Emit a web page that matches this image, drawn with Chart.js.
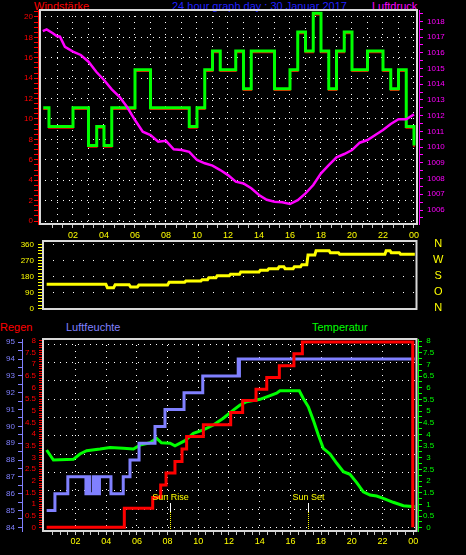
<!DOCTYPE html>
<html><head><meta charset="utf-8">
<script src="https://cdn.jsdelivr.net/npm/chart.js@4.4.1/dist/chart.umd.min.js"></script>
<style>
html,body{margin:0;padding:0;background:#000;width:466px;height:555px;overflow:hidden;}
canvas{position:absolute;left:0;top:0;}
.lbl{position:absolute;font-family:'Liberation Sans',Arial,sans-serif;font-size:11px;line-height:12px;white-space:nowrap;}
</style></head><body>
<div class="lbl" style="left:34px;top:0px;color:#ff0000">Windstärke</div>
<div class="lbl" style="left:172px;top:0px;color:#2020ff">24 hour graph day : 30 Januar 2017</div>
<div class="lbl" style="left:372px;top:0px;color:#ff00ff">Luftdruck</div>
<div class="lbl" style="left:0px;top:321px;color:#ff0000">Regen</div>
<div class="lbl" style="left:66px;top:321px;color:#8080ff">Luftfeuchte</div>
<div class="lbl" style="left:312px;top:321px;color:#00ff00">Temperatur</div>
<canvas id="c1" width="466" height="555"></canvas>
<canvas id="c2" width="466" height="555"></canvas>
<canvas id="c3" width="466" height="555"></canvas>
<script>
// ---------- data ----------
const hourLabels = ["02","04","06","08","10","12","14","16","18","20","22","00"];
const labelHours = [2,4,6,8,10,12,14,16,18,20,22,24];

// Top panel: wind (km/h) and pressure (hPa)
const windTicks = [0,2,4,6,8,10,12,14,16,18,20];
const pressTicks = [1006,1007,1008,1009,1010,1011,1012,1013,1014,1015,1016,1017,1018];
const windH = [0.08,0.45,2.0,3.0,3.53,4.0,4.5,6.0,7.0,9.5,10.0,10.5,11.0,11.5,12.5,13.0,13.5,15.0,16.0,16.5,17.0,17.5,18.0,18.5,19.0,19.5,20.0,21.0,22.0,22.5,23.0,23.5,24.0];
const windGreen = [11.11,9.26,11.11,7.41,9.26,7.41,11.11,14.82,11.11,9.26,11.11,14.82,16.67,14.82,16.67,12.96,16.67,12.96,14.82,18.52,16.67,20.37,16.67,12.96,16.67,18.52,14.82,16.67,14.82,12.96,14.82,9.26,7.41];
const windRed = [10.96,9.11,10.96,7.26,9.11,7.26,10.96,14.67,10.96,9.11,10.96,14.67,16.52,14.67,16.52,12.81,16.52,12.81,14.67,18.37,16.52,20.22,16.52,12.81,16.52,18.37,14.67,16.52,14.67,12.81,14.67,9.11,7.26];
const pressH = [0.05,0.3,0.7,0.95,1.16,1.48,2,2.5,3,3.5,4,4.5,5,5.5,6,6.5,7,7.5,8,8.5,9,9.5,10,10.5,11,11.5,12,12.5,13,13.5,14,14.5,15,15.5,16,16.5,17,17.5,18,18.5,19,19.5,20,20.5,21,21.5,22,22.5,23,23.5,24];
const pressV = [1017.38,1017.49,1017.24,1017.06,1017.02,1016.38,1016.07,1015.86,1015.43,1014.79,1014.27,1013.67,1013.2,1012.53,1011.72,1010.98,1010.77,1010.34,1010.4,1009.86,1009.81,1009.7,1009.18,1008.97,1008.82,1008.54,1008.22,1007.8,1007.69,1007.38,1006.95,1006.65,1006.52,1006.49,1006.38,1006.63,1007.06,1007.59,1008.33,1008.86,1009.35,1009.56,1009.81,1010.28,1010.45,1010.77,1011.09,1011.47,1011.77,1011.77,1012.08];

// Middle panel: wind direction (degrees)
const dirTicks = [0,90,180,270,360];
const compassLabels = ["N","O","S","W","N"];
const dirH = [0.3,4.12,4.22,4.62,4.72,5.62,5.72,6.15,6.25,8.1,8.2,9.2,9.28,10.25,10.33,10.68,10.76,11.22,11.3,12.08,12.16,12.74,12.82,14.0,14.08,14.55,14.63,15.22,15.3,15.6,15.68,16.2,16.28,16.68,16.76,17.08,17.16,17.6,17.68,18.52,18.6,19.12,19.2,22.12,22.2,22.45,22.53,23.05,23.13,24.05];
const dirV = [135,135,116,116,133,133,120,120,131,131,146,146,154,154,161,161,172,172,183,183,191,191,204,204,214,214,223,223,234,234,223,223,234,234,245,245,300,300,324,324,313,313,304,304,324,324,313,313,304,304];

// Bottom panel: humidity (%), rain (mm), temperature (°C)
const humTicks = [84,85,86,87,88,89,90,91,92,93,94,95];
const rainTicks = [0,0.5,1,1.5,2,2.5,3,3.5,4,4.5,5,5.5,6,6.5,7,7.5,8];
const tempTicks = [0,0.5,1,1.5,2,2.5,3,3.5,4,4.5,5,5.5,6,6.5,7,7.5,8];
const humH = [0.12,0.66,1.5,2.68,2.72,2.76,2.8,2.84,2.88,2.92,3.16,3.2,3.24,3.28,3.32,3.36,3.4,3.44,3.48,3.52,3.56,4.31,5.11,5.55,6.14,7.18,7.83,9.07,10.29,12.6,12.64,12.68,24.1];
const humV = [85,86,87,86,87,86,87,86,87,86,87,86,87,86,87,86,87,86,87,86,87,86,87,88,89,90,91,92,93,94,93,94,94];
const rainH = [0.12,5.18,7.03,7.55,7.9,8.48,8.94,9.24,10.33,12.11,12.89,13.76,14.46,15.28,16.23,16.78,23.97];
const rainV = [0,0.82,1.28,1.82,2.33,2.83,3.36,3.9,4.4,4.93,5.44,5.93,6.43,6.94,7.45,7.96,0];
const tempH = [0.12,0.56,1.86,2.29,2.73,3.6,4.25,5.11,5.77,6.2,6.85,7.29,7.6,8.16,8.48,9.13,9.68,10.33,10.98,11.63,12.28,12.72,13.15,14.02,14.46,15.1,15.32,16.58,16.84,17.17,17.49,17.82,18.14,18.58,19.02,19.45,19.88,20.32,20.75,21.19,21.62,22.05,22.7,23.36,24.1];
const tempV = [3.33,2.9,2.93,3.16,3.3,3.37,3.44,3.4,3.37,3.54,3.64,3.83,3.64,3.62,3.51,3.73,4.04,4.19,4.4,4.69,5.04,5.26,5.4,5.5,5.61,5.76,5.87,5.87,5.54,5.18,4.61,3.97,3.4,3.16,2.76,2.4,2.29,1.93,1.54,1.4,1.36,1.26,1.09,0.94,0.9];
const sunLabels = ["Sun Rise","Sun Set"];
const sunHours = [8.18,17.17];

// ---------- helpers ----------
const FONT = "'Liberation Sans', Arial, sans-serif";
const DOT = [1,5];
const STEP = 'before'; // value holds from its own time stamp to the next one
const pts = (xs, ys) => xs.map((x, i) => ({x: x, y: ys[i]}));
function range(a, b, step) { const out = []; const n = Math.round((b - a) / step); for (let i = 0; i <= n; i++) out.push(+(a + i * step).toFixed(4)); return out; }
const isIn = (arr, v) => arr.some(a => Math.abs(a - v) < 1e-6);
const setTicks = vals => s => { s.ticks = vals.map(v => ({value: v})); };
const fitW = w => s => { s.width = w; s.paddingTop = 0; s.paddingBottom = 0; s.paddingLeft = 0; s.paddingRight = 0; };
const fitH = h => s => { s.height = h; s.paddingTop = 0; s.paddingBottom = 0; s.paddingLeft = 0; s.paddingRight = 0; };
function hourLabel(v) { const i = labelHours.findIndex(h => Math.abs(h - v) < 1e-6); return i >= 0 ? hourLabels[i] : ''; }
const numLabel = arr => v => isIn(arr, v) ? String(Math.round(v * 10) / 10) : '';
const gridIf = (arr, col) => c => (c.tick && isIn(arr, c.tick.value)) ? col : 'rgba(0,0,0,0)';

const framePlugin = {
  id: 'frame',
  beforeDatasetsDraw(chart, args, o) {
    const a = chart.chartArea, ctx = chart.ctx;
    const l = a.left + o.dl, r = a.right + o.dr, t = a.top + o.dt, b = a.bottom + o.db;
    ctx.save(); ctx.strokeStyle = '#d8d8d8'; ctx.lineWidth = 2;
    ctx.strokeRect(l, t, r - l, b - t); ctx.restore();
  }
};
const base = {
  responsive: false, animation: false, events: [],
  elements: {point: {radius: 0}, line: {tension: 0, borderCapStyle: 'butt', borderJoinStyle: 'miter'}},
};
const commonPlugins = {legend: {display: false}, tooltip: {enabled: false}};

// ---------- top chart ----------
const topMin = -0.258, topMax = 24.3226;
new Chart(document.getElementById('c1'), {
  type: 'line',
  data: {datasets: [
    {label: 'Luftdruck', data: pts(pressH, pressV), yAxisID: 'yP', xAxisID: 'x', borderColor: '#ff00ff', borderWidth: 2.5, order: 0},
    {label: 'Windstärke Böen', data: pts(windH, windGreen), yAxisID: 'yW', xAxisID: 'x', borderColor: '#00ff00', borderWidth: 3, stepped: STEP, order: 1},
    {label: 'Windstärke', data: pts(windH, windRed), yAxisID: 'yW', xAxisID: 'x', borderColor: '#ff0000', borderWidth: 1.5, stepped: STEP, order: 2}
  ]},
  options: Object.assign({}, base, {
    layout: {padding: {left: 0, top: 10, right: 17, bottom: 315}},
    plugins: Object.assign({}, commonPlugins, {frame: {dl: 2, dr: -2, dt: 0, db: 0}}),
    scales: {
      x: {type: 'linear', position: 'bottom', min: topMin, max: topMax, afterFit: fitH(16), afterBuildTicks: setTicks(range(2/3, 24, 2/3)),
          border: {display: false}, grid: {drawOnChartArea: false, tickLength: 4, tickColor: '#c8c8c8'},
          ticks: {autoSkip: false, maxRotation: 0, minRotation: 0, padding: 2, color: '#ffff00', font: {family: FONT, size: 9}, callback: v => hourLabel(v)}},
      xg: {type: 'linear', position: 'bottom', min: topMin, max: topMax, afterFit: fitH(0), afterBuildTicks: setTicks(range(1, 24, 1)),
          border: {display: false, dash: DOT}, grid: {color: '#ffffff', drawTicks: false}, ticks: {display: false}},
      yW: {type: 'linear', position: 'left', min: -0.294, max: 20.686, afterFit: fitW(38), afterBuildTicks: setTicks(range(0, 20.5, 0.5)),
          border: {color: '#ff0000', dash: DOT}, grid: {color: gridIf(windTicks, '#ffffff'), tickColor: '#ff0000', tickLength: 4},
          ticks: {autoSkip: false, padding: 1, color: '#ff0000', font: {family: FONT, size: 8}, callback: numLabel(windTicks)}},
      yP: {type: 'linear', position: 'right', min: 1005.11, max: 1018.719, afterFit: fitW(30), afterBuildTicks: setTicks(range(1005.5, 1018.5, 0.5)),
          border: {color: '#ff00ff'}, grid: {drawOnChartArea: false, tickColor: '#ff00ff', tickLength: 4},
          ticks: {autoSkip: false, padding: 4, color: '#ff00ff', font: {family: FONT, size: 8}, callback: numLabel(pressTicks)}}
    }
  }),
  plugins: [framePlugin]
});

// ---------- middle chart ----------
new Chart(document.getElementById('c2'), {
  type: 'line',
  data: {datasets: [
    {label: 'Windrichtung', data: pts(dirH, dirV), yAxisID: 'yD', xAxisID: 'x', borderColor: '#ffff00', borderWidth: 3}
  ]},
  options: Object.assign({}, base, {
    layout: {padding: {left: 0, top: 241, right: 9, bottom: 246}},
    plugins: Object.assign({}, commonPlugins, {frame: {dl: 1, dr: -0.5, dt: 0, db: 0}}),
    scales: {
      x: {type: 'linear', display: false, min: 0, max: 24.19},
      yD: {type: 'linear', position: 'left', min: -3.94, max: 378.56, afterFit: fitW(42), afterBuildTicks: setTicks(range(0, 360, 18)),
           border: {color: '#ffff00', dash: [1, 9]}, grid: {color: gridIf(dirTicks, '#ffffff'), tickColor: '#ffff00', tickLength: 4},
           ticks: {autoSkip: false, padding: 4, color: '#ffff00', font: {family: FONT, size: 8}, callback: numLabel(dirTicks)}},
      yC: {type: 'linear', position: 'right', min: -3.94, max: 378.56, afterFit: fitW(40), afterBuildTicks: setTicks(dirTicks),
           border: {display: false}, grid: {drawOnChartArea: false, drawTicks: false},
           ticks: {autoSkip: false, crossAlign: 'center', padding: 16, color: '#ffff00', font: {family: FONT, size: 11},
                   callback: v => { const i = dirTicks.indexOf(v); return i >= 0 ? compassLabels[i] : ''; }}}
    }
  }),
  plugins: [framePlugin]
});

// ---------- bottom chart ----------
const sunPlugin = {
  id: 'sun',
  afterDatasetsDraw(chart) {
    const xs = chart.scales.x, b = chart.chartArea.bottom, ctx = chart.ctx;
    ctx.save();
    sunHours.forEach((h, i) => {
      const px = Math.round(xs.getPixelForValue(h)) + 0.5;
      ctx.setLineDash([]); ctx.strokeStyle = '#ffffff'; ctx.lineWidth = 1;
      ctx.beginPath(); ctx.moveTo(px, b - 28); ctx.lineTo(px, b - 19); ctx.stroke();
      ctx.setLineDash([1, 1]); ctx.strokeStyle = '#ffff00';
      ctx.beginPath(); ctx.moveTo(px, b - 19); ctx.lineTo(px, b - 1); ctx.stroke();
      ctx.fillStyle = '#ffff00'; ctx.font = '9px ' + FONT; ctx.textAlign = 'center'; ctx.textBaseline = 'middle';
      ctx.fillText(sunLabels[i], px, b - 33);
    });
    ctx.restore();
  }
};
const botMin = -0.1824, botMax = 24.313;
new Chart(document.getElementById('c3'), {
  type: 'line',
  data: {datasets: [
    {label: 'Regen', data: pts(rainH, rainV), yAxisID: 'yR', xAxisID: 'x', borderColor: '#ff0000', borderWidth: 3, stepped: STEP, order: 0},
    {label: 'Luftfeuchte', data: pts(humH, humV), yAxisID: 'yH', xAxisID: 'x', borderColor: '#8080ff', borderWidth: 3, stepped: STEP, order: 1},
    {label: 'Temperatur', data: pts(tempH, tempV), yAxisID: 'yT', xAxisID: 'x', borderColor: '#00ff00', borderWidth: 3, order: 2}
  ]},
  options: Object.assign({}, base, {
    layout: {padding: {left: 0, top: 339, right: 18, bottom: 10}},
    plugins: Object.assign({}, commonPlugins, {frame: {dl: 1, dr: -1.5, dt: 0, db: 0}}),
    scales: {
      x: {type: 'linear', position: 'bottom', min: botMin, max: botMax, afterFit: fitH(14), afterBuildTicks: setTicks(range(0.5, 24, 0.5)),
          border: {display: false, dash: DOT}, grid: {color: gridIf(labelHours, '#ffffff'), tickLength: 4, tickColor: '#c8c8c8'},
          ticks: {autoSkip: false, maxRotation: 0, minRotation: 0, padding: 1, color: '#ffff00', font: {family: FONT, size: 9}, callback: v => hourLabel(v)}},
      yH: {type: 'linear', position: 'left', weight: 1, min: 83.78, max: 95.196, afterFit: fitW(22), afterBuildTicks: setTicks(range(84, 95, 0.5)),
           border: {color: '#8080ff'}, grid: {drawOnChartArea: false, tickColor: '#8080ff', tickLength: 4},
           ticks: {autoSkip: false, padding: 3, color: '#8080ff', font: {family: FONT, size: 8}, callback: numLabel(humTicks)}},
      yR: {type: 'linear', position: 'left', weight: 0, min: -0.159, max: 8.085, afterFit: fitW(20), afterBuildTicks: setTicks(range(0, 8, 0.1)),
           border: {color: '#ff0000'}, grid: {drawOnChartArea: false, tickColor: '#ff0000', tickLength: 3},
           ticks: {autoSkip: false, padding: 3, color: '#ff0000', font: {family: FONT, size: 8}, callback: numLabel(rainTicks)}},
      yT: {type: 'linear', position: 'right', weight: 0, min: -0.141, max: 8.086, afterFit: fitW(30), afterBuildTicks: setTicks(range(0, 8, 0.25)),
           border: {color: '#00ff00'}, grid: {drawOnChartArea: false, tickColor: '#00ff00', tickLength: 4},
           ticks: {autoSkip: false, crossAlign: 'center', padding: 1, color: '#00ff00', font: {family: FONT, size: 8}, callback: numLabel(tempTicks)}},
      yg: {type: 'linear', position: 'right', weight: 1, min: -0.191, max: 10.284, afterFit: fitW(0), afterBuildTicks: setTicks(range(0, 10, 1)),
           border: {display: false, dash: DOT}, grid: {color: '#ffffff', drawTicks: false}, ticks: {display: false}}
    }
  }),
  plugins: [framePlugin, sunPlugin]
});
</script>
</body></html>
